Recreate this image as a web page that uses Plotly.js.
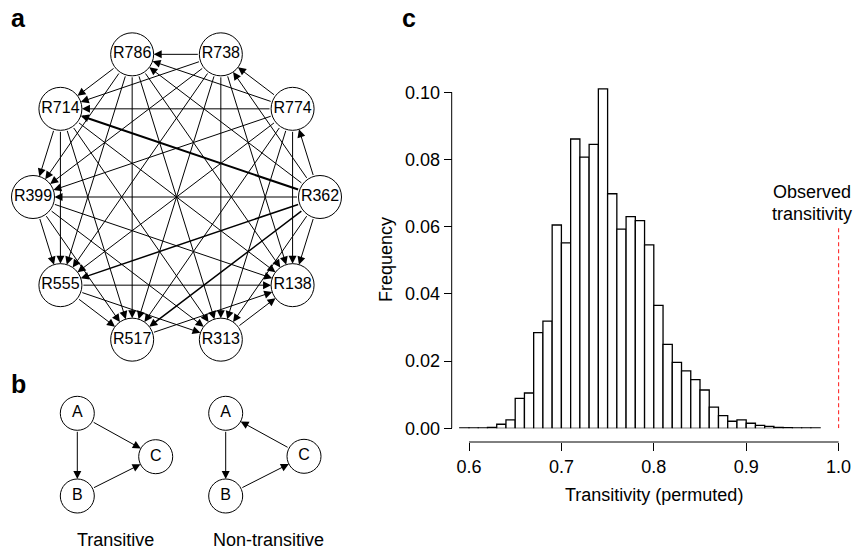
<!DOCTYPE html>
<html><head><meta charset="utf-8">
<script src="https://cdn.plot.ly/plotly-3.0.1.min.js"></script>
<style>html,body{margin:0;padding:0;background:#fff}#chart{width:855px;height:550px}</style>
</head><body><div id="chart"></div>
<script>
// ---------------- DATA ----------------
// Panel a: dominance network (nodes in rank order, drawn counter-clockwise from the right)
const nodeNames = ['R362','R774','R738','R786','R714','R399','R555','R517','R313','R138'];
const edgeFrom = ['R362','R362','R362','R362','R362','R362','R362','R362','R362',
                  'R774','R774','R774','R774','R774','R774','R774','R774',
                  'R738','R738','R738','R738','R738','R738','R738',
                  'R786','R786','R786','R786','R786','R786',
                  'R714','R714','R714','R714','R714',
                  'R399','R399','R399','R399',
                  'R555','R555','R555',
                  'R517','R313'];
const edgeTo   = ['R774','R738','R786','R714','R399','R555','R517','R313','R138',
                  'R738','R786','R714','R399','R555','R517','R313','R138',
                  'R786','R714','R399','R555','R517','R313','R138',
                  'R714','R399','R555','R517','R313','R138',
                  'R399','R555','R517','R313','R138',
                  'R555','R517','R313','R138',
                  'R517','R313','R138',
                  'R138','R138'];
const edgeWeight = [1,1,1,3,1,2,2,1,1,
                    1,1,1,1,1,1,1,1,
                    1,1,1,1,1,1,1,
                    1,1,1,1,1,1,
                    1,1,1,1,1,
                    1,1,1,1,
                    1,1,1,
                    1,1];

// Panel b: triads
const triadNodes = ['A','B','C'];
const transFrom = ['A','A','B'], transTo = ['B','C','C'];
const nonTransFrom = ['A','B','C'], nonTransTo = ['B','C','A'];
const triadCaptions = ['Transitive','Non-transitive'];

// Panel c: histogram of permuted transitivity (bin width 0.01)
const binCenters = [0.595,0.605,0.615,0.625,0.635,0.645,0.655,0.665,0.675,0.685,
                    0.695,0.705,0.715,0.725,0.735,0.745,0.755,0.765,0.775,0.785,
                    0.795,0.805,0.815,0.825,0.835,0.845,0.855,0.865,0.875,0.885,
                    0.895,0.905,0.915,0.925,0.935,0.945,0.955,0.965,0.975];
const frequency = [0.0001,0.0001,0.0001,0.0003,0.0012,0.0025,0.0089,0.0105,0.0285,0.0319,
                   0.0605,0.0552,0.0861,0.0807,0.0845,0.1010,0.0698,0.0593,0.0630,0.0618,
                   0.0546,0.0366,0.0250,0.0196,0.0171,0.0145,0.0114,0.0063,0.0038,0.0021,
                   0.0025,0.0015,0.0009,0.0006,0.0003,0.0002,0.0001,0.0001,0.0001];
const observedTransitivity = 1.0;
const xTickVals = [0.6,0.7,0.8,0.9,1.0];
const xTickText = ['0.6','0.7','0.8','0.9','1.0'];
const yTickVals = [0,0.02,0.04,0.06,0.08,0.10];
const yTickText = ['0.00','0.02','0.04','0.06','0.08','0.10'];

// ---------------- LAYOUT / STYLE ----------------
const W = 855, H = 550;
const FONT = 'Liberation Sans, Arial, Helvetica, sans-serif';
// circle layout for panel a (pixel units on the helper axes)
const circ = {cx:176.5, cy:197, rx:143.5, ry:150};
const nodeR = 21.5;
const pos = {};
nodeNames.forEach((n,i)=>{
  const th = i*2*Math.PI/nodeNames.length;
  pos[n] = [circ.cx + circ.rx*Math.cos(th), circ.cy - circ.ry*Math.sin(th)];
});
// triad layouts
const triR = 17;
const triLeft = {A:[77.3,413.3], B:[77.3,496], C:[155.7,456.7]};
const triRight = {A:[225.7,413.3], B:[225.7,496], C:[304,456.3]};
const captionPos = [[116,540],[268,540]];

// histogram pixel geometry
const px0 = 469, pxPerUnit = 924;      // x: 0.6 at 469px
const py0 = 428.3, pyPerUnit = 3360;    // y: 0 at 428.3px
const xAxisPx = 442, yAxisPx = 451.7;
const domL = yAxisPx, domR = 850;
const xr = [0.6 - (px0-domL)/pxPerUnit, 0.6 + (domR-px0)/pxPerUnit];
const yTopPx = 80;
const yr = [0, (py0-yTopPx)/pyPerUnit];

const traces = [];
// histogram bars
traces.push({type:'bar', x:binCenters, y:frequency, width:0.01, xaxis:'x', yaxis:'y',
  marker:{color:'white', line:{color:'black', width:1.3}}, hoverinfo:'skip', showlegend:false});

// network nodes
traces.push({type:'scatter', mode:'markers+text', xaxis:'x2', yaxis:'y2',
  x:nodeNames.map(n=>pos[n][0]), y:nodeNames.map(n=>pos[n][1]), text:nodeNames,
  textposition:'middle center', textfont:{family:FONT, size:16, color:'black'},
  marker:{size:nodeR*2, color:'white', line:{color:'black', width:1}},
  hoverinfo:'skip', showlegend:false, cliponaxis:false});
// triad nodes
[triLeft, triRight].forEach(L=>{
  traces.push({type:'scatter', mode:'markers+text', xaxis:'x2', yaxis:'y2',
    x:triadNodes.map(n=>L[n][0]), y:triadNodes.map(n=>L[n][1]), text:triadNodes,
    textposition:'middle center', textfont:{family:FONT, size:16, color:'black'},
    marker:{size:triR*2, color:'white', line:{color:'black', width:1}},
    hoverinfo:'skip', showlegend:false, cliponaxis:false});
});

const ann = [];
const widthFor = {1:1, 2:1.5, 3:2.1};
function arrow(p0, p1, r, wt){
  const w = widthFor[wt];
  ann.push({xref:'x2', yref:'y2', axref:'x2', ayref:'y2', x:p1[0], y:p1[1], ax:p0[0], ay:p0[1],
    text:'', showarrow:true, arrowhead:2, arrowsize: 1.6/w, arrowwidth:w,
    arrowcolor:'black', standoff:r, startstandoff:r});
}
edgeFrom.forEach((f,i)=>arrow(pos[f], pos[edgeTo[i]], nodeR, edgeWeight[i]));
transFrom.forEach((f,i)=>arrow(triLeft[f], triLeft[transTo[i]], triR, 1));
nonTransFrom.forEach((f,i)=>arrow(triRight[f], triRight[nonTransTo[i]], triR, 1));

function paperText(txt, xpx, ypx, size, opts){
  ann.push(Object.assign({xref:'paper', yref:'paper', x:xpx/W, y:1-ypx/H, text:txt, showarrow:false,
    xanchor:'center', yanchor:'middle', font:{family:FONT, size:size, color:'black'}}, opts||{}));
}
triadCaptions.forEach((c,i)=>paperText(c, captionPos[i][0], captionPos[i][1], 18));
paperText('<b>a</b>', 18.5, 17.5, 25);
paperText('<b>b</b>', 18.5, 384, 25);
paperText('<b>c</b>', 409, 17.5, 25);
paperText('Frequency', 386, 260, 18, {textangle:-90});
paperText('Transitivity (permuted)', 654, 495, 18);
paperText('Observed', 812, 192, 18);
paperText('transitivity', 812, 213.5, 18);

const shapes = [
  // detached R-style axis lines
  {type:'line', xref:'x', yref:'paper', x0:xTickVals[0], x1:xTickVals[xTickVals.length-1],
   y0:1-xAxisPx/H, y1:1-xAxisPx/H, line:{color:'black', width:1}},
  {type:'line', xref:'paper', yref:'y', x0:yAxisPx/W, x1:yAxisPx/W,
   y0:yTickVals[0], y1:yTickVals[yTickVals.length-1], line:{color:'black', width:1}},
  // observed value marker
  {type:'line', xref:'x', yref:'y', x0:observedTransitivity, x1:observedTransitivity,
   y0:0, y1:0.0596, line:{color:'#ff2a2a', width:1.1, dash:'4px,3px'}}
];

const layout = {
  width:W, height:H, margin:{l:0,r:0,t:0,b:0}, paper_bgcolor:'white', plot_bgcolor:'rgba(0,0,0,0)',
  showlegend:false, font:{family:FONT, color:'black'},
  xaxis:{domain:[domL/W, domR/W], range:xr, anchor:'free', position:1-xAxisPx/H,
    tickvals:xTickVals, ticktext:xTickText, ticks:'outside', ticklen:8, tickwidth:1, tickcolor:'black',
    showline:false, showgrid:false, zeroline:false, tickfont:{family:FONT, size:18, color:'black'}, fixedrange:true},
  yaxis:{domain:[1-py0/H, 1-yTopPx/H], range:yr, anchor:'free', position:yAxisPx/W,
    tickvals:yTickVals, ticktext:yTickText, ticks:'outside', ticklen:8, tickwidth:1, tickcolor:'black',
    showline:false, showgrid:false, zeroline:false, tickfont:{family:FONT, size:18, color:'black'}, fixedrange:true},
  xaxis2:{domain:[0, 380/W], range:[0,380], anchor:'y2', showgrid:false, zeroline:false, showline:false,
    showticklabels:false, ticks:'', fixedrange:true},
  yaxis2:{domain:[0,1], range:[H,0], anchor:'x2', showgrid:false, zeroline:false, showline:false,
    showticklabels:false, ticks:'', fixedrange:true},
  bargap:0,
  annotations:ann, shapes:shapes
};
Plotly.newPlot('chart', traces, layout, {staticPlot:true, displayModeBar:false});
</script></body></html>
